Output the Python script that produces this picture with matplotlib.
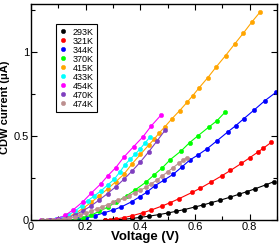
import matplotlib
matplotlib.use("Agg")
import matplotlib.pyplot as plt
from matplotlib.ticker import MultipleLocator, FormatStrFormatter

plt.rcParams["font.family"] = ["Liberation Sans", "DejaVu Sans"]

# ---- datos (V, uA) ----
labels = ["293K", "321K", "344K", "370K", "415K", "433K", "454K", "470K", "474K"]
colors = ["black", "#ff0000", "#0000ff", "#00ff00", "#ffa500",
          "#00ffff", "#ff00ff", "#7f3fbf", "#bc8f8f"]

v_293 = [0.27, 0.30, 0.34, 0.37, 0.40, 0.43, 0.47, 0.50, 0.53, 0.56,
         0.60, 0.63, 0.66, 0.69, 0.73, 0.76, 0.79, 0.82, 0.86, 0.89]
i_293 = [0.0, 0.001, 0.005, 0.010, 0.016, 0.023, 0.033, 0.042, 0.052, 0.062,
         0.078, 0.090, 0.104, 0.117, 0.137, 0.153, 0.169, 0.186, 0.210, 0.229]

v_321 = [0.27, 0.29, 0.31, 0.34, 0.37, 0.41, 0.44, 0.48, 0.51, 0.54,
         0.59, 0.62, 0.66, 0.70, 0.73, 0.77, 0.80, 0.83, 0.85, 0.88]
i_321 = [0.0, 0.002, 0.006, 0.015, 0.026, 0.044, 0.060, 0.084, 0.104, 0.126,
         0.165, 0.190, 0.227, 0.265, 0.295, 0.337, 0.370, 0.404, 0.427, 0.463]

v_344 = [0.10, 0.137, 0.17, 0.20, 0.235, 0.268, 0.301, 0.331, 0.368, 0.398,
         0.423, 0.453, 0.487, 0.520, 0.553, 0.581, 0.611, 0.645, 0.681, 0.720,
         0.749, 0.779, 0.817, 0.856, 0.897]
i_344 = [0.0, 0.002, 0.005, 0.012, 0.027, 0.044, 0.060, 0.079, 0.109, 0.139,
         0.165, 0.204, 0.238, 0.272, 0.317, 0.357, 0.387, 0.425, 0.472, 0.524,
         0.561, 0.603, 0.655, 0.710, 0.760]

v_370 = [0.10, 0.13, 0.16, 0.19, 0.22, 0.25, 0.28, 0.31, 0.35, 0.38,
         0.42, 0.45, 0.48, 0.51, 0.55, 0.58, 0.61, 0.65, 0.68, 0.71]
i_370 = [0.0, 0.0, 0.003, 0.012, 0.030, 0.052, 0.077, 0.105, 0.145, 0.178,
         0.225, 0.268, 0.310, 0.360, 0.412, 0.460, 0.500, 0.552, 0.590, 0.641]

v_415 = [0.04, 0.07, 0.10, 0.13, 0.16, 0.19, 0.22, 0.25, 0.28, 0.31,
         0.34, 0.37, 0.40, 0.43, 0.45, 0.47, 0.49, 0.516, 0.544, 0.572,
         0.591, 0.615, 0.647, 0.678, 0.712, 0.745, 0.777, 0.808, 0.839]
i_415 = [0.0, 0.001, 0.004, 0.016, 0.038, 0.070, 0.105, 0.145, 0.185, 0.228,
         0.273, 0.335, 0.390, 0.445, 0.480, 0.520, 0.555, 0.603, 0.651, 0.702,
         0.738, 0.786, 0.847, 0.911, 0.978, 1.046, 1.111, 1.177, 1.238]

v_433 = [0.04, 0.065, 0.09, 0.11, 0.135, 0.16, 0.185, 0.207, 0.231, 0.256,
         0.28, 0.304, 0.325, 0.343, 0.362, 0.38, 0.398, 0.416, 0.435]
i_433 = [0.0, 0.001, 0.006, 0.015, 0.030, 0.052, 0.085, 0.115, 0.143, 0.174,
         0.208, 0.242, 0.286, 0.327, 0.361, 0.390, 0.421, 0.456, 0.493]

v_454 = [0.035, 0.065, 0.095, 0.125, 0.155, 0.19, 0.22, 0.255, 0.28, 0.31,
         0.34, 0.375, 0.41, 0.44, 0.475]
i_454 = [0.0, 0.001, 0.008, 0.028, 0.062, 0.110, 0.160, 0.215, 0.262, 0.312,
         0.375, 0.436, 0.496, 0.560, 0.623]

v_470 = [0.04, 0.07, 0.10, 0.13, 0.16, 0.19, 0.22, 0.25, 0.28, 0.31,
         0.34, 0.37, 0.40, 0.43, 0.46, 0.49]
i_470 = [0.0, 0.001, 0.004, 0.013, 0.030, 0.055, 0.085, 0.120, 0.158, 0.198,
         0.243, 0.292, 0.345, 0.405, 0.468, 0.533]

v_474 = [0.04, 0.06, 0.08, 0.10, 0.12, 0.14, 0.16, 0.18, 0.20, 0.22,
         0.24, 0.26, 0.28, 0.30, 0.32, 0.34, 0.36, 0.38, 0.40, 0.42,
         0.44, 0.46, 0.48, 0.50, 0.52, 0.54, 0.555, 0.57]
i_474 = [0.0, 0.0, 0.001, 0.002, 0.005, 0.010, 0.018, 0.028, 0.040, 0.053,
         0.066, 0.079, 0.092, 0.105, 0.117, 0.130, 0.146, 0.163, 0.178, 0.194,
         0.216, 0.237, 0.262, 0.287, 0.312, 0.337, 0.355, 0.371]

series = [(v_293, i_293), (v_321, i_321), (v_344, i_344), (v_370, i_370),
          (v_415, i_415), (v_433, i_433), (v_454, i_454), (v_470, i_470),
          (v_474, i_474)]


def main():
    fig = plt.figure(figsize=(2.8, 2.44), dpi=100)
    ax = fig.add_axes([0.111, 0.098, 0.878, 0.886])

    for (v, i), lab, c in zip(series, labels, colors):
        ax.plot(v, i, "-", color=c, lw=0.8)
        ax.plot(v, i, "o", color=c, ms=3.2, mec=c, mew=0.3, label=lab,
                linestyle="none")

    ax.set_xlim(0, 0.9)
    ax.set_ylim(0, 1.285)
    ax.xaxis.set_major_locator(MultipleLocator(0.2))
    ax.xaxis.set_minor_locator(MultipleLocator(0.1))
    ax.yaxis.set_major_locator(MultipleLocator(0.5))
    ax.yaxis.set_minor_locator(MultipleLocator(0.25))
    ax.xaxis.set_major_formatter(FormatStrFormatter("%g"))
    ax.yaxis.set_major_formatter(FormatStrFormatter("%g"))
    ax.tick_params(which="both", direction="in", top=True, right=True,
                   labelsize=8, pad=1.5, width=0.8)
    ax.tick_params(which="major", length=4)
    ax.tick_params(which="minor", length=3)
    for s in ax.spines.values():
        s.set_linewidth(1.0)

    ax.set_xlabel("Voltage (V)", fontsize=9.5, fontweight="bold")
    ax.xaxis.label.set_va("bottom")
    ax.xaxis.set_label_coords(0.463, -0.106)
    ax.set_ylabel("CDW current (\u03bcA)", fontsize=8, fontweight="bold")
    ax.yaxis.set_label_coords(-0.084, 0.52)

    leg = ax.legend(loc="upper left", bbox_to_anchor=(0.10, 0.905),
                    borderaxespad=0, fontsize=6.5, labelspacing=0.0,
                    handlelength=1.0, handletextpad=0.5, borderpad=0.35,
                    fancybox=False, framealpha=1, edgecolor="black")
    leg.get_frame().set_linewidth(0.8)

    fig.savefig("out.png", dpi=100)
    plt.close(fig)


if __name__ == "__main__":
    main()
